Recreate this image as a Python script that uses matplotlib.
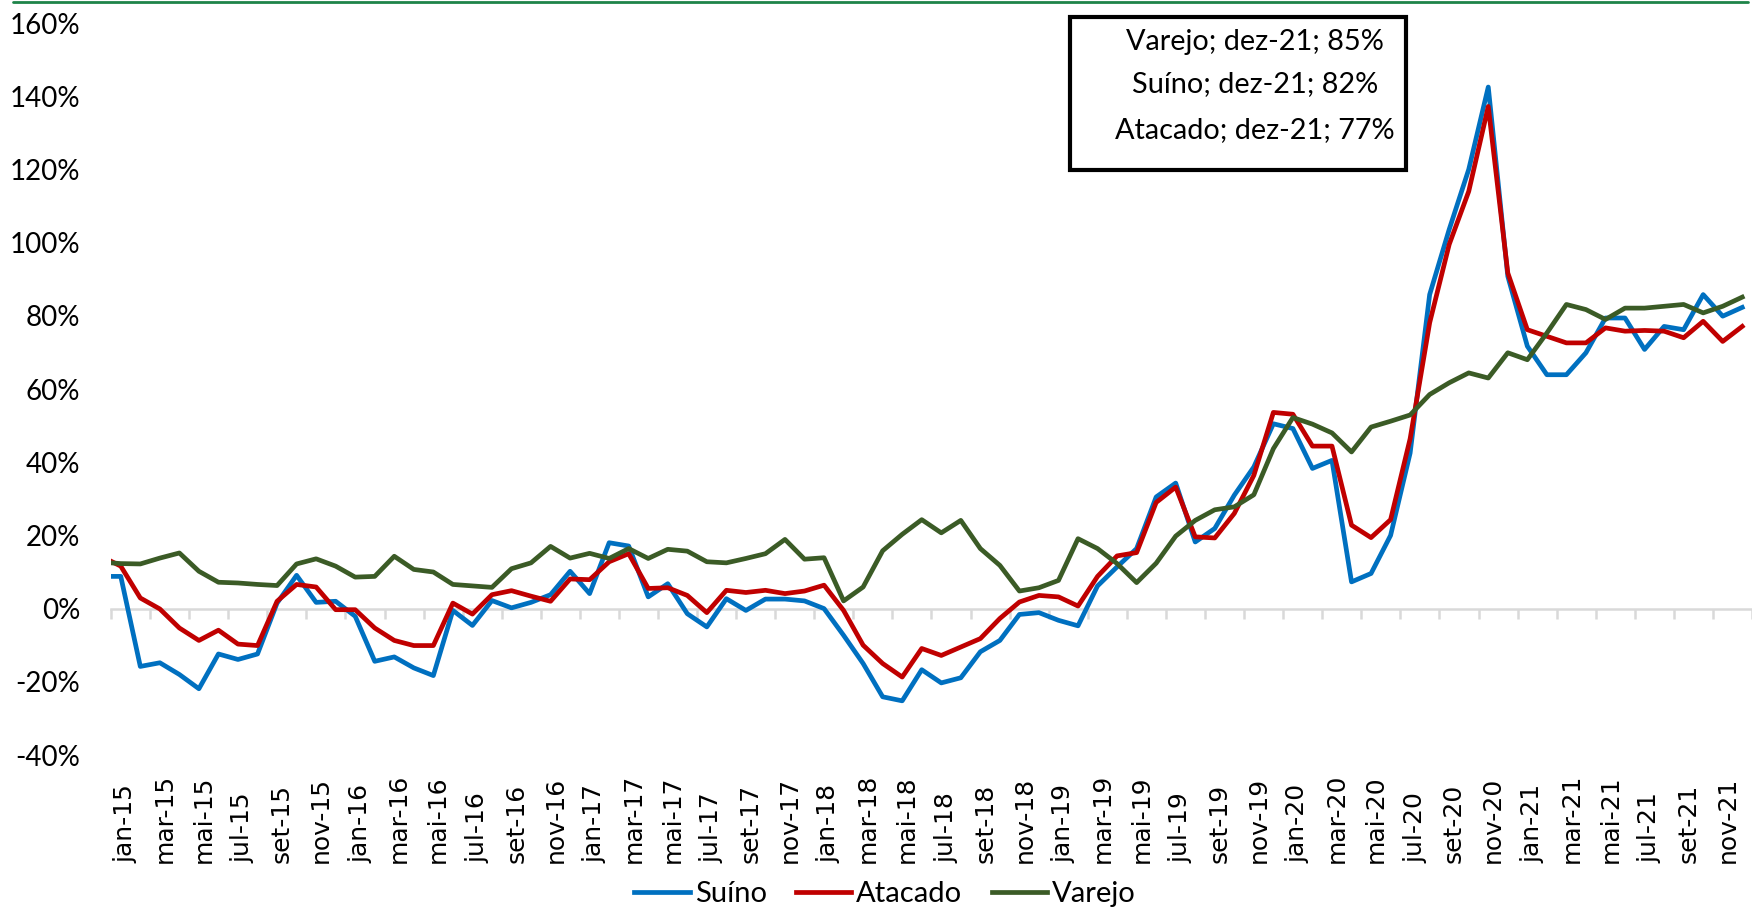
import numpy as np
import matplotlib
matplotlib.use("Agg")
import matplotlib.pyplot as plt
from matplotlib.lines import Line2D
from matplotlib.patches import Rectangle

plt.rcParams['font.family'] = ['Lato', 'DejaVu Sans']

# meses dez-14 .. dez-21 (dez-14 fica cortado na borda esquerda do eixo)
meses = ['jan', 'fev', 'mar', 'abr', 'mai', 'jun', 'jul', 'ago', 'set', 'out', 'nov', 'dez']
anos = ['15', '16', '17', '18', '19', '20', '21']
categorias = ['dez-14'] + [f"{m}-{a}" for a in anos for m in meses]

# variação (%)
suino = [8.8,
         8.8, -15.8, -14.8, -18.0, -21.9, -12.4, -13.9, -12.4, 1.5, 9.1, 1.7, 2.0,
         -2.1, -14.4, -13.2, -16.2, -18.3, -0.5, -4.6, 2.2, 0.2, 1.7, 3.8, 10.2,
         4.1, 18.0, 17.1, 3.2, 6.8, -1.4, -5.0, 2.7, -0.5, 2.6, 2.6, 2.1,
         0.0, -7.3, -15.0, -24.1, -25.2, -16.7, -20.3, -18.9, -11.8, -8.7, -1.6, -1.1,
         -3.2, -4.7, 6.2, 11.4, 16.4, 30.5, 34.3, 18.2, 21.9, 31.0, 38.7, 50.5,
         49.2, 38.3, 40.5, 7.3, 9.6, 20.0, 42.5, 85.8, 103.6, 120.0, 142.5, 90.8,
         71.7, 63.9, 63.9, 69.9, 79.4, 79.4, 70.8, 77.1, 76.2, 85.8, 79.9, 82.3]
atacado = [14.3,
           11.6, 2.9, -0.1, -5.3, -8.7, -5.9, -9.7, -10.1, 2.0, 6.6, 5.9, -0.3,
           -0.3, -5.3, -8.7, -10.1, -10.1, 1.5, -1.5, 3.8, 4.9, 3.4, 2.0, 8.1,
           7.9, 12.8, 15.0, 5.5, 5.7, 3.6, -1.1, 5.0, 4.4, 5.0, 4.1, 4.8,
           6.4, -0.5, -10.0, -15.0, -18.7, -10.9, -12.8, -10.5, -8.2, -2.7, 1.8, 3.6,
           3.2, 0.7, 8.8, 14.4, 15.3, 29.0, 33.2, 19.6, 19.3, 26.0, 36.4, 53.6,
           53.1, 44.4, 44.4, 22.8, 19.4, 24.3, 46.4, 78.1, 99.5, 114.0, 137.2, 91.7,
           76.2, 74.4, 72.6, 72.6, 76.7, 75.8, 76.0, 75.8, 74.0, 78.5, 73.0, 77.1]
varejo = [12.7,
          12.3, 12.2, 13.8, 15.2, 10.2, 7.2, 7.0, 6.6, 6.3, 12.2, 13.6, 11.6,
          8.6, 8.8, 14.3, 10.7, 10.0, 6.6, 6.2, 5.8, 10.9, 12.5, 17.0, 13.8,
          15.1, 13.7, 16.4, 13.7, 16.2, 15.7, 12.8, 12.5, 13.7, 15.0, 18.9, 13.5,
          13.9, 2.1, 5.9, 15.8, 20.3, 24.3, 20.7, 24.1, 16.4, 11.8, 4.8, 5.7,
          7.7, 19.1, 16.4, 12.3, 7.1, 12.4, 19.8, 24.1, 27.0, 27.8, 31.1, 43.7,
          52.2, 50.4, 48.0, 42.8, 49.6, 51.2, 52.9, 58.5, 61.7, 64.4, 63.0, 69.9,
          68.0, 75.3, 83.1, 81.7, 79.0, 82.1, 82.1, 82.6, 83.1, 80.8, 82.6, 85.1]

rotulos_caixa = ["Varejo; dez-21; 85%", "Suíno; dez-21; 82%", "Atacado; dez-21; 77%"]
yticks = [-40, -20, 0, 20, 40, 60, 80, 100, 120, 140, 160]

fig = plt.figure(figsize=(17.52, 9.11), dpi=100)
ax = fig.add_axes([111 / 1752, 1 - 755 / 911, 1 - 111 / 1752, 732 / 911])

x = np.arange(len(categorias)) - 1  # jan-15 = 0
ax.plot(x, suino, color='#0070C0', lw=3.4, label='Suíno')
ax.plot(x, atacado, color='#C00000', lw=3.4, label='Atacado')
ax.plot(x, varejo, color='#3B5B26', lw=3.4, label='Varejo')

ax.set_xlim(-0.5, 83.16)
ax.set_ylim(-40, 160)
for s in ['left', 'right', 'top']:
    ax.spines[s].set_visible(False)
ax.spines['bottom'].set_position(('data', 0))
ax.spines['bottom'].set_color('#D9D9D9')
ax.spines['bottom'].set_linewidth(1.8)
ax.spines['bottom'].set_zorder(0)

ax.set_xticks(np.arange(-0.5, 84, 2))
ax.tick_params(axis='x', length=7, width=1.8, color='#D9D9D9', labelbottom=False)
ax.set_yticks(yticks)
ax.set_yticklabels([f"{v}%" for v in yticks], fontsize=20)
ax.tick_params(axis='y', length=0, pad=22)

# rótulos do eixo x (a cada 2 meses, a partir de jan-15), alinhados pela base
for i in range(1, len(categorias), 2):
    ax.text(x[i] + 0.25, (755 - 863) / 732, categorias[i], transform=ax.get_xaxis_transform(),
            rotation=90, ha='center', va='bottom', fontsize=18, family='DejaVu Sans')

fig.legend(loc='center', bbox_to_anchor=(885 / 1752, 1 - 894 / 911), ncol=3, frameon=False,
           fontsize=21, handlelength=1.9, handletextpad=0.17, columnspacing=1.0)

# caixa com os últimos valores
fig.add_artist(Rectangle((1070 / 1752, 1 - 170 / 911), 336 / 1752, 153 / 911,
                         transform=fig.transFigure, fill=False, ec='black', lw=3))
for t, yy in zip(rotulos_caixa, [42, 84, 130]):
    fig.text(1255 / 1752, 1 - yy / 911, t, ha='center', va='center', fontsize=20.8)

# linha verde no topo
fig.add_artist(Line2D([13 / 1752, 1748 / 1752], [1 - 1.5 / 911] * 2, color='#1E8449',
                      lw=2, solid_capstyle='round', transform=fig.transFigure))

fig.savefig('out.png', dpi=100)
